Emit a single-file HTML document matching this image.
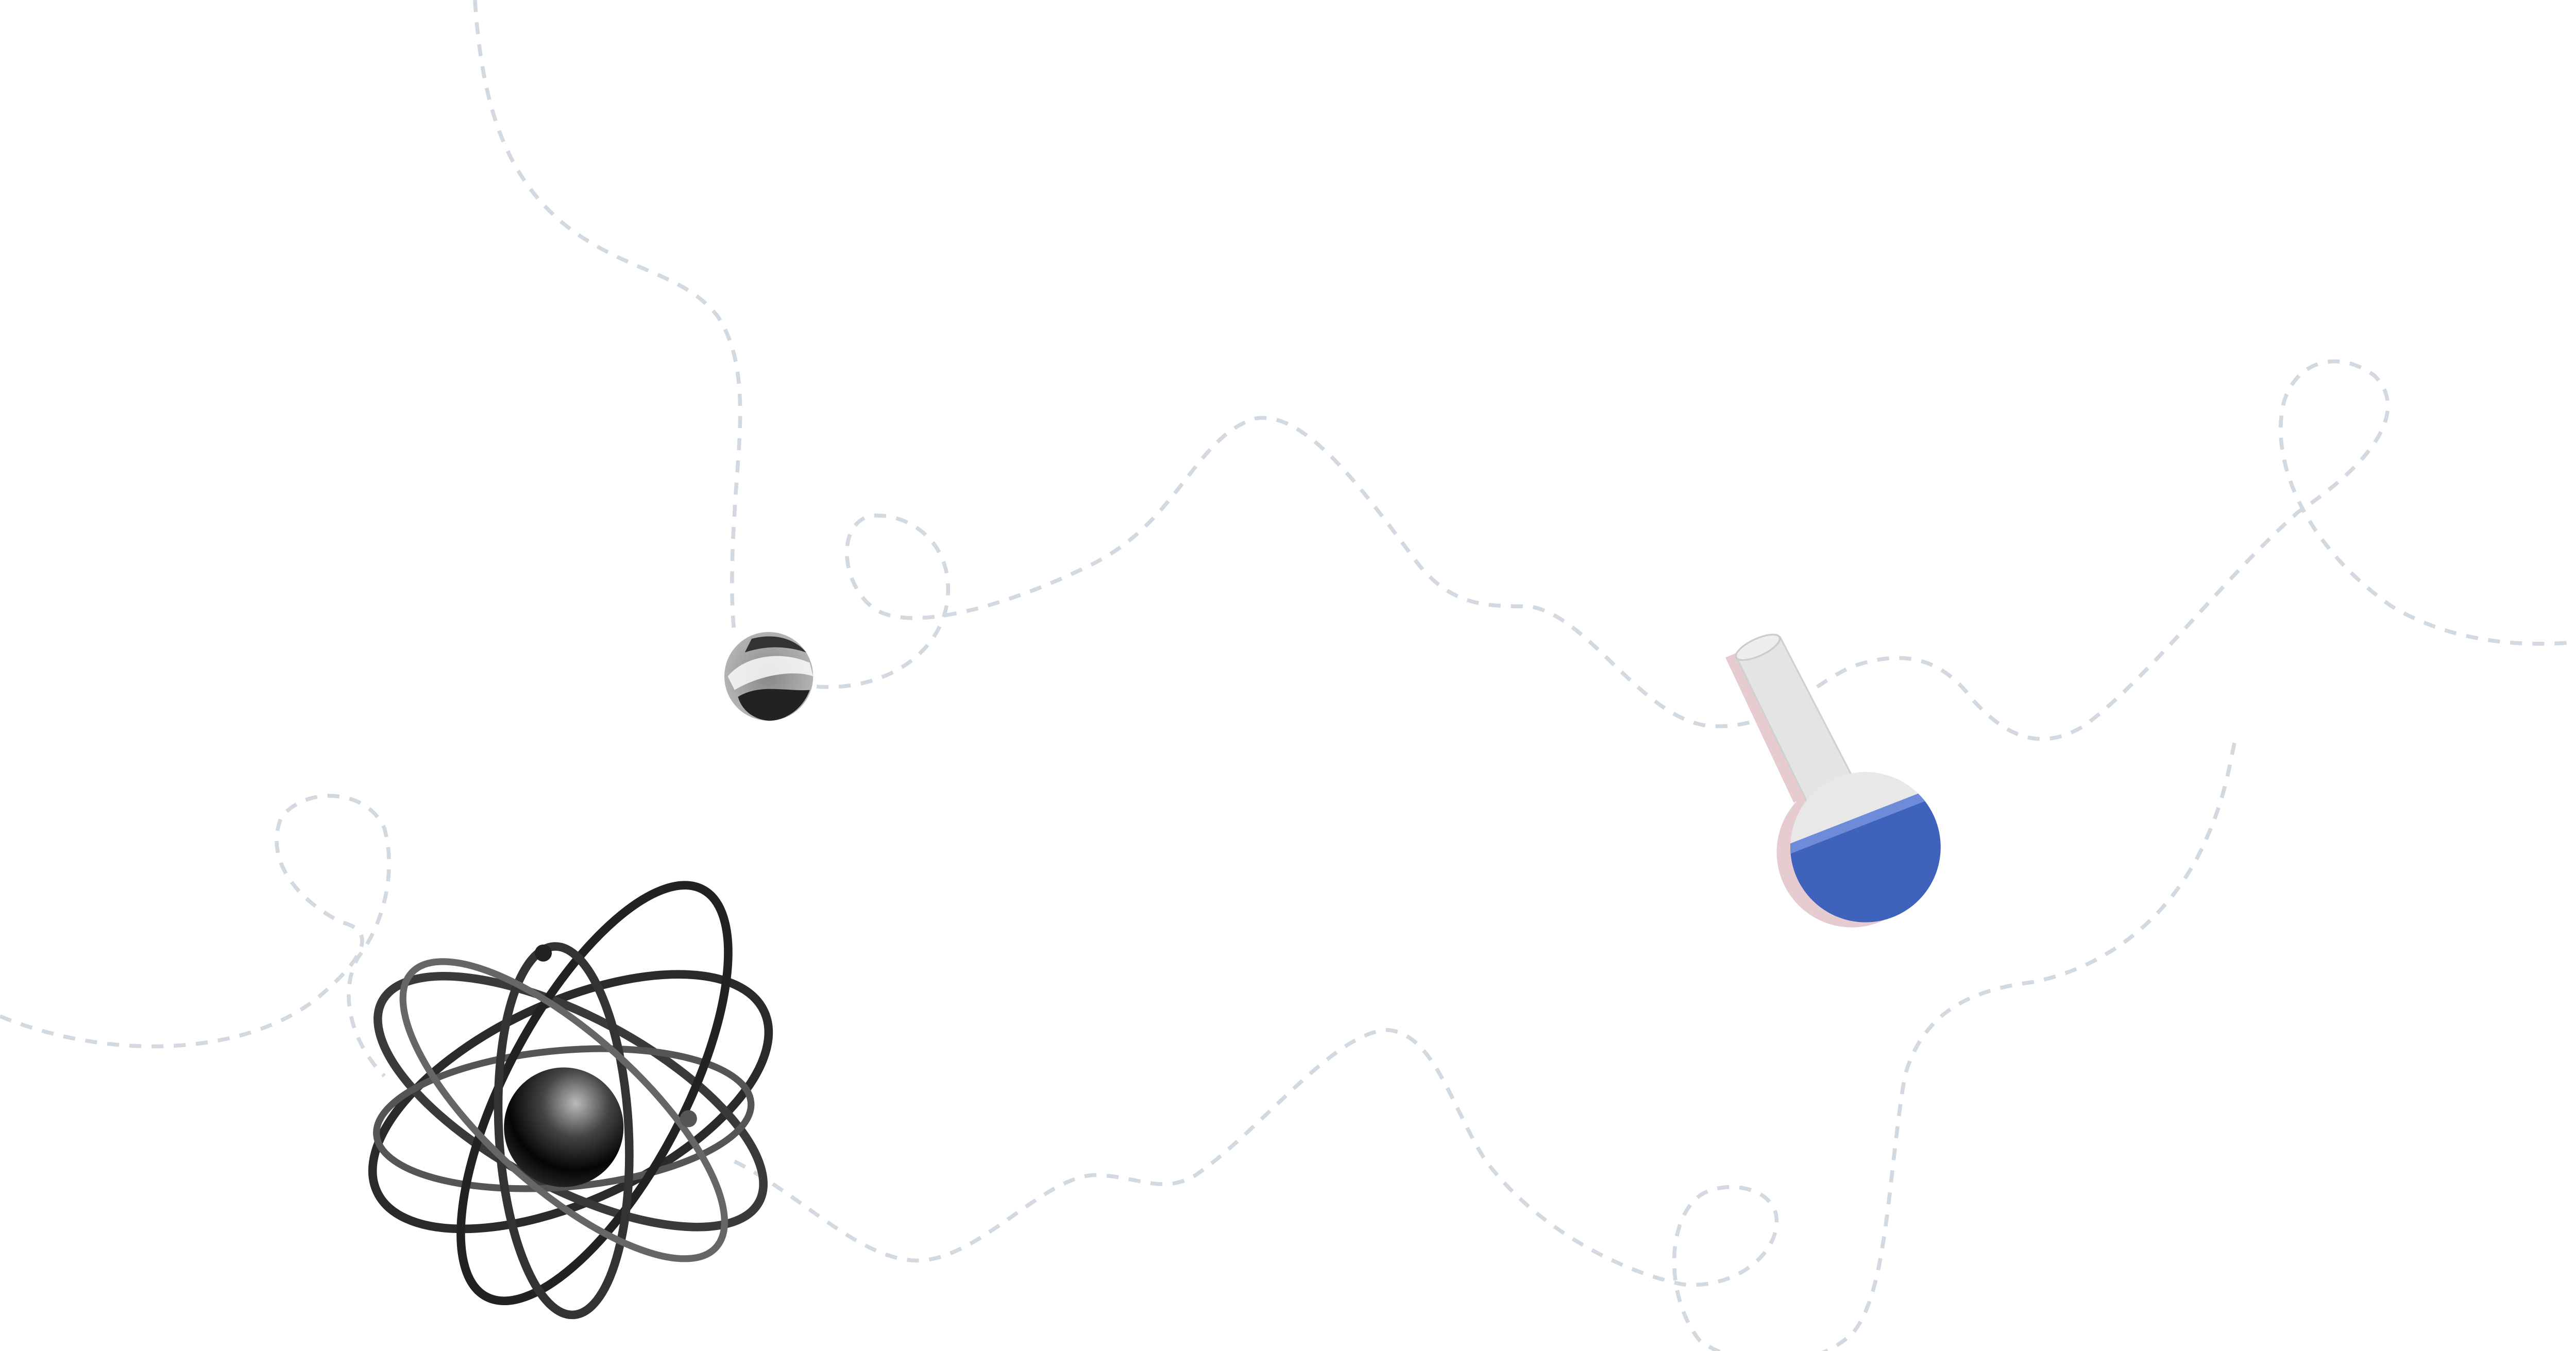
<!DOCTYPE html>
<html><head><meta charset="utf-8"><style>html,body{margin:0;padding:0;background:#fff;width:5123px;height:2623px;overflow:hidden}svg{display:block}</style></head>
<body>
<svg width="5123" height="2623" viewBox="0 0 1545 791" xmlns="http://www.w3.org/2000/svg">
<defs>
<radialGradient id="nuc" cx="0.6" cy="0.3" r="0.8"><stop offset="0" stop-color="#bbb"/><stop offset="0.35" stop-color="#444"/><stop offset="0.7" stop-color="#050505"/><stop offset="1" stop-color="#333"/></radialGradient>
<radialGradient id="ball" cx="0.5" cy="0.5" r="0.6"><stop offset="0" stop-color="#888"/><stop offset="1" stop-color="#bbb"/></radialGradient>
<clipPath id="bc"><circle cx="1092" cy="496" r="44"/></clipPath>
</defs>
<g fill="none" stroke="#d3d9e0" stroke-width="2.3" stroke-dasharray="7 6" stroke-linecap="butt">
<path d="M278,0 C282,60 295,105 335,135 C370,160 400,160 420,185 C440,215 432,260 430,300 C428,330 428,355 430,372"/>
<path d="M478,402 C520,405 555,380 555,345 C555,315 530,300 510,302 C490,306 492,340 510,355 C530,372 590,355 640,330 C690,305 700,255 735,245 C765,240 800,290 830,330 C850,355 870,355 895,355 C930,360 960,420 1000,425 C1040,428 1060,400 1085,390 C1120,378 1140,390 1155,410 C1175,432 1195,440 1220,425 C1260,395 1300,340 1345,300 C1390,270 1410,240 1390,220 C1370,205 1345,210 1337,235 C1328,270 1350,320 1400,355 C1450,385 1510,378 1545,370"/>
<path d="M0,595 C60,620 140,620 185,585 C215,560 220,545 200,540 C170,525 155,500 165,478 C180,460 215,462 225,485 C232,510 225,540 210,560 C198,580 205,610 225,630"/>
<path d="M430,680 C470,700 505,740 540,738 C575,735 610,690 640,688 C665,688 680,700 700,688 C740,660 780,605 812,603 C840,605 850,650 870,680 C900,720 950,745 985,752 C1015,755 1040,735 1040,715 C1040,695 1010,690 995,700 C975,715 975,760 995,785 C1015,800 1060,805 1085,780 C1105,755 1105,690 1115,630 C1125,595 1150,580 1190,575 C1240,565 1275,530 1292,490 C1303,465 1305,448 1308,435"/>
</g>
<circle cx="450" cy="396" r="26" fill="url(#ball)"/>
<path d="M426,396 C435,385 455,380 474,388 L476,396 C465,392 445,395 430,404 Z" fill="#fff" opacity="0.8"/>
<path d="M432,408 C445,400 460,405 474,404 C470,415 460,422 450,422 C440,421 434,415 432,408Z" fill="#222"/>
<path d="M440,374 C455,370 466,375 472,382 C460,378 448,378 436,382Z" fill="#333"/>
<g>
<path d="M1010,385 L1036,374 L1080,455 L1050,470 Z" fill="#e6cbd0"/>
<circle cx="1084" cy="499" r="44" fill="#e6cbd0"/>
<path d="M1016,384 L1042,373 L1086,458 L1058,470 Z" fill="#e4e4e4" stroke="#d0d0d0" stroke-width="1"/>
<ellipse cx="1029" cy="379" rx="14" ry="5" transform="rotate(-25 1029 379)" fill="#eee" stroke="#ccc" stroke-width="1"/>
<circle cx="1092" cy="496" r="44" fill="#e8e8e8"/>
<g clip-path="url(#bc)"><path d="M1040,497 L1145,456 L1145,560 L1040,560 Z" fill="#3f62bd"/><path d="M1040,497 L1145,456 L1145,462 L1040,503Z" fill="#6d8bd8"/></g>
</g>
<g fill="none" stroke-linecap="round">
<ellipse cx="334" cy="645" rx="125" ry="58" transform="rotate(-25 334 645)" stroke="#2a2a2a" stroke-width="5"/>
<ellipse cx="334" cy="645" rx="125" ry="50" transform="rotate(28 334 645)" stroke="#3a3a3a" stroke-width="5"/>
<ellipse cx="330" cy="655" rx="110" ry="40" transform="rotate(-5 330 655)" stroke="#555" stroke-width="4"/>
<ellipse cx="348" cy="640" rx="52" ry="135" transform="rotate(28 348 640)" stroke="#222" stroke-width="5"/>
<ellipse cx="330" cy="662" rx="38" ry="108" transform="rotate(-3 330 662)" stroke="#333" stroke-width="5"/>
<ellipse cx="330" cy="650" rx="120" ry="45" transform="rotate(42 330 650)" stroke="#666" stroke-width="4"/>
</g>
<circle cx="330" cy="660" r="35" fill="url(#nuc)"/>
<circle cx="403" cy="655" r="5" fill="#555"/>
<circle cx="318" cy="558" r="5" fill="#222"/>
</svg>
</body></html>
